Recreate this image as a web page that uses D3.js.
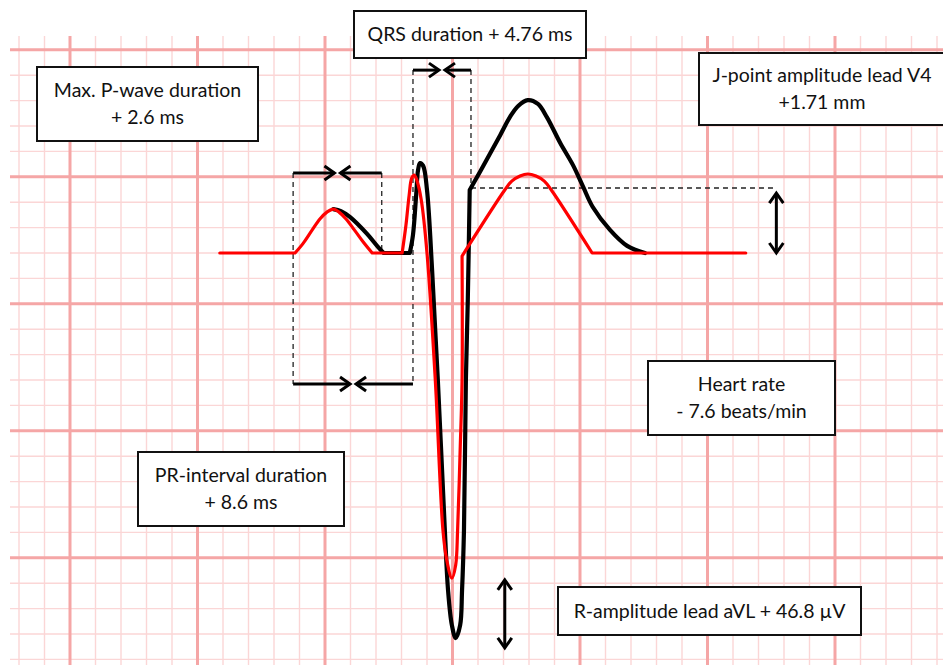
<!DOCTYPE html>
<html>
<head>
<meta charset="utf-8">
<script src="https://cdn.jsdelivr.net/npm/d3@7"></script>
<style>
  html, body { margin: 0; padding: 0; background: #fff; }
  svg { display: block; }
  .box rect { fill: #fff; stroke: #111; stroke-width: 2; }
  .box text { font-family: Lato, "Open Sans", sans-serif; font-size: 19.5px; fill: #111; text-anchor: middle; }
</style>
</head>
<body>
<div class="container"></div>
<script>
(function(d3) {
  "use strict";

  // ECG complexes: time in ms, amplitude in mV (isoelectric line = 0)
  var redTime = [235, 353, 366, 380, 392, 403, 413, 422, 433, 446, 460, 474, 521,
    527, 532, 536, 540, 544, 551, 560, 573, 585, 591, 599, 605, 608, 612, 615,
    615, 682, 693, 706, 718, 731, 744, 755, 819, 1060];
  var redVolt = [0, 0, 0.039, 0.091, 0.134, 0.161, 0.173, 0.161, 0.134, 0.091, 0.043, 0, 0,
    0.110, 0.228, 0.295, 0.307, 0.287, 0.209, 0, -0.5, -1.091, -1.209, -1.280, -1.228, -1.091, -0.776, -0.5,
    -0.012, 0.248, 0.283, 0.303, 0.311, 0.303, 0.283, 0.248, 0, 0];
  // indices where the tracing has a sharp corner
  var redCorners = [1, 11, 12, 28, 36];

  var blackTime = [413, 425, 439, 466, 483, 492, 533,
    538, 543, 546, 549, 554, 560, 568, 577, 588, 593, 599, 605, 612, 615, 618, 621, 624, 627,
    643, 675, 690, 703, 718, 734, 748, 769, 789, 805, 820, 847, 874, 902];
  var blackVolt = [0.173, 0.165, 0.142, 0.075, 0.024, 0, 0,
    0.071, 0.228, 0.327, 0.354, 0.343, 0.248, -0.067, -0.5, -1.091, -1.327, -1.465, -1.516, -1.465, -1.327, -1.091, -0.5, -0.185, 0.248,
    0.319, 0.465, 0.535, 0.579, 0.602, 0.587, 0.535, 0.433, 0.346, 0.260, 0.181, 0.091, 0.028, 0];
  var blackCorners = [5, 6, 24];

  // measured intervals (dimension lines with inward arrows)
  var intervalStart = [350, 350, 538];
  var intervalEnd = [489, 538, 629];
  var intervalLevel = [0.315, -0.516, 0.720];

  // dashed guides
  var guideTime = [350, 489, 538, 629];
  var guideTop = [0.315, 0.315, 0.720, 0.720];
  var guideBottom = [-0.516, 0, -0.516, 0.248];
  var jLevel = 0.256;
  var jGuideEnd = 1106;

  // vertical amplitude arrows
  var ampTime = [1108, 682];
  var ampTop = [0.236, -1.287];
  var ampBottom = [0, -1.555];

  var labelLines = [
    ["Max. P-wave duration", "+ 2.6 ms"],
    ["QRS duration + 4.76 ms"],
    ["J-point amplitude lead V4", "+1.71 mm"],
    ["Heart rate", "- 7.6 beats/min"],
    ["PR-interval duration", "+ 8.6 ms"],
    ["R-amplitude lead aVL + 46.8 \u00b5V"]
  ];
  var boxes = [
    {x: 37, y: 67, w: 221, h: 74},
    {x: 354, y: 11, w: 232, h: 47},
    {x: 699, y: 53, w: 246, h: 72},
    {x: 648, y: 361, w: 187, h: 74},
    {x: 138, y: 452, w: 206, h: 74},
    {x: 558, y: 587, w: 303, h: 48}
  ];

  var width = 943, height = 665;

  // 200 ms per large square, 0.5 mV per large square
  var x = d3.scaleLinear().domain([0, 200]).range([70, 197.5]);
  var y = d3.scaleLinear().domain([0, 0.5]).range([253, 126]);

  var svg = d3.select(".container").append("svg")
      .attr("width", width)
      .attr("height", height);

  drawGrid();
  drawGuides();
  drawTrace(blackTime, blackVolt, blackCorners, "#000", 4.2);
  drawTrace(redTime, redVolt, redCorners, "#f00", 3.2);
  drawIntervals();
  drawAmpArrows();
  drawBoxes();

  function drawGrid() {
    var tMin = x.invert(10), tMax = x.invert(width);
    var vMin = y.invert(height), vMax = y.invert(36);
    var g = svg.append("g").attr("class", "grid");

    var tTicks = d3.range(Math.ceil(tMin / 40) * 40, tMax, 40);
    var vTicks = d3.range(Math.ceil(vMin * 10), Math.floor(vMax * 10) + 1);

    function isMajorT(t) { return Math.round(t) % 200 === 0; }
    function isMajorV(k) { return ((k - 3) % 5 + 5) % 5 === 0; }

    [false, true].forEach(function(major) {
      g.selectAll(null)
          .data(tTicks.filter(function(t) { return isMajorT(t) === major; }))
        .enter().append("line")
          .attr("x1", function(d) { return x(d); })
          .attr("x2", function(d) { return x(d); })
          .attr("y1", 36)
          .attr("y2", height)
          .attr("stroke", major ? "#f5a6a6" : "#fbd6d6")
          .attr("stroke-width", major ? 3 : 1.4);

      g.selectAll(null)
          .data(vTicks.filter(function(k) { return isMajorV(k) === major; }))
        .enter().append("line")
          .attr("x1", 10)
          .attr("x2", width)
          .attr("y1", function(d) { return y(d / 10); })
          .attr("y2", function(d) { return y(d / 10); })
          .attr("stroke", major ? "#f5a6a6" : "#fbd6d6")
          .attr("stroke-width", major ? 3 : 1.4);
    });
  }

  function drawGuides() {
    var g = svg.append("g")
        .attr("stroke", "#222")
        .attr("stroke-width", 1.3)
        .attr("stroke-dasharray", "5,4");

    g.selectAll("line")
        .data(guideTime)
      .enter().append("line")
        .attr("x1", function(d) { return x(d); })
        .attr("x2", function(d) { return x(d); })
        .attr("y1", function(d, i) { return y(guideTop[i]); })
        .attr("y2", function(d, i) { return y(guideBottom[i]); });

    g.append("line")
        .attr("x1", x(guideTime[3]))
        .attr("x2", x(jGuideEnd))
        .attr("y1", y(jLevel))
        .attr("y2", y(jLevel));
  }

  function drawTrace(times, volts, corners, colour, w) {
    // a repeated point makes catmull-rom turn a sharp corner there
    var pts = [];
    times.forEach(function(t, i) {
      pts.push([t, volts[i]]);
      if (corners.indexOf(i) >= 0) pts.push([t, volts[i]]);
    });

    var line = d3.line()
        .x(function(d) { return x(d[0]); })
        .y(function(d) { return y(d[1]); })
        .curve(d3.curveCatmullRom.alpha(0.5));

    svg.append("path")
        .datum(pts)
        .attr("fill", "none")
        .attr("stroke", colour)
        .attr("stroke-width", w)
        .attr("stroke-linejoin", "round")
        .attr("stroke-linecap", "round")
        .attr("d", line);
  }

  function chevron(tx, ty, dx, dy) {
    // open arrowhead with tip at (tx,ty) pointing along (dx,dy)
    var len = 10, half = 7;
    var px = -dy, py = dx;
    return "M" + (tx - dx * len + px * half) + "," + (ty - dy * len + py * half) +
      "L" + tx + "," + ty +
      "L" + (tx - dx * len - px * half) + "," + (ty - dy * len - py * half);
  }

  function drawIntervals() {
    var g = svg.append("g")
        .attr("fill", "none")
        .attr("stroke", "#000")
        .attr("stroke-width", 3);

    intervalStart.forEach(function(t0, i) {
      var x0 = x(t0), x1 = x(intervalEnd[i]), yy = y(intervalLevel[i]);
      var mid = (x0 + x1) / 2;
      g.append("path").attr("d", "M" + x0 + "," + yy + "L" + (mid - 3) + "," + yy);
      g.append("path").attr("d", chevron(mid - 3, yy, 1, 0));
      g.append("path").attr("d", "M" + x1 + "," + yy + "L" + (mid + 3) + "," + yy);
      g.append("path").attr("d", chevron(mid + 3, yy, -1, 0));
    });
  }

  function drawAmpArrows() {
    var g = svg.append("g")
        .attr("fill", "none")
        .attr("stroke", "#000")
        .attr("stroke-width", 3);

    ampTime.forEach(function(t, i) {
      var xx = x(t), y0 = y(ampTop[i]), y1 = y(ampBottom[i]);
      g.append("path").attr("d", "M" + xx + "," + (y0 + 1) + "L" + xx + "," + (y1 - 1));
      g.append("path").attr("d", chevron(xx, y0, 0, -1));
      g.append("path").attr("d", chevron(xx, y1, 0, 1));
    });
  }

  function drawBoxes() {
    var box = svg.selectAll(".box")
        .data(boxes)
      .enter().append("g")
        .attr("class", "box")
        .attr("transform", function(d) { return svgTranslateString(d.x, d.y); });

    box.append("rect")
        .attr("width", function(d) { return d.w; })
        .attr("height", function(d) { return d.h; });

    box.each(function(d, i) {
      var lines = labelLines[i];
      var step = 27;
      var first = d.h / 2 - (lines.length - 1) * step / 2;
      d3.select(this).selectAll("text")
          .data(lines)
        .enter().append("text")
          .attr("x", d.w / 2)
          .attr("y", function(s, j) { return first + j * step; })
          .attr("dy", "0.35em")
          .text(function(s) { return s; });
    });
  }

  function svgTranslateString(tx, ty) {
    return "translate(" + tx + "," + ty + ")";
  }

}(d3));
</script>
</body>
</html>
